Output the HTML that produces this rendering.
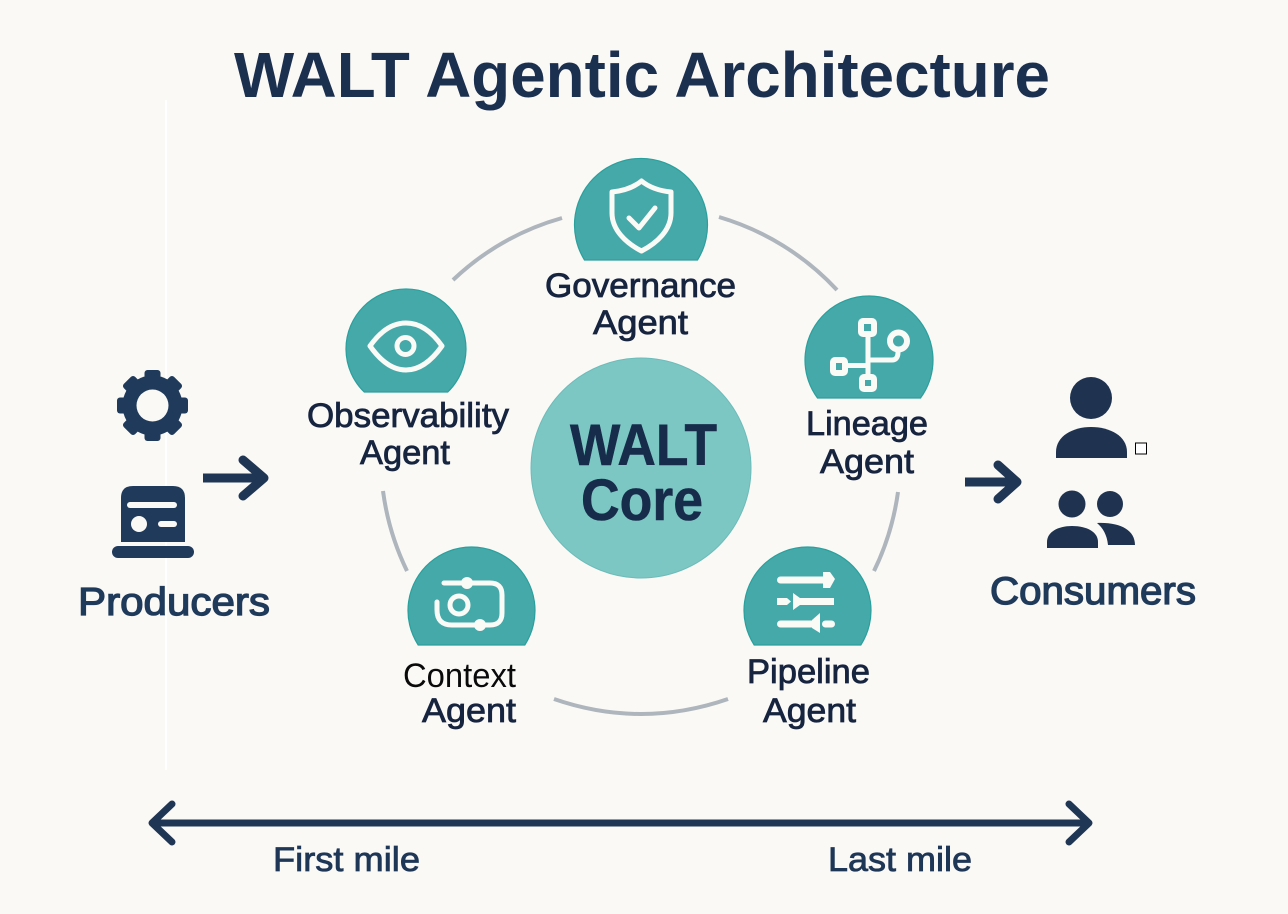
<!DOCTYPE html>
<html lang="en">
<head>
<meta charset="utf-8">
<title>WALT Agentic Architecture</title>
<style>
html,body{margin:0;padding:0;width:1288px;height:914px;overflow:hidden;background:#faf9f6}
svg{display:block}
text{font-family:"Liberation Sans",sans-serif;text-anchor:start}
.lab{font-size:34px;fill:#16243f;stroke:#16243f;stroke-width:.8px}
.blue{fill:#1f3756;stroke:#1f3756}
.side{font-size:39px;fill:#1f3a5a;stroke:#1f3a5a;stroke-width:1.300px}
.teal{fill:#45a9a9;stroke:#2aa09d;stroke-width:1.2}
.ic{fill:none;stroke:#fafaf7;stroke-width:5;stroke-linecap:round;stroke-linejoin:round}
.arc{fill:none;stroke:#aeb5bd;stroke-width:4}
.nav{fill:none;stroke:#1f3654;stroke-linejoin:round}
</style>
</head>
<body>
<svg width="1288" height="914" viewBox="0 0 1288 914" xmlns="http://www.w3.org/2000/svg">
<rect width="1288" height="914" fill="#faf9f6"/>
<rect x="165" y="100" width="2" height="670" fill="#ffffff"/>

<text x="234" y="97" font-size="64" font-weight="bold" fill="#1b2f4f" textLength="816" lengthAdjust="spacingAndGlyphs">WALT Agentic Architecture</text>

<!-- ring arcs -->
<path class="arc" d="M562 218 A262 262 0 0 0 453 280"/>
<path class="arc" d="M719 217 A262 262 0 0 1 837 290"/>
<path class="arc" d="M898 492 A262 262 0 0 1 874 571"/>
<path class="arc" d="M554 699 Q641 729 728 699"/>
<path class="arc" d="M383 491 A262 262 0 0 0 407 571"/>

<!-- core -->
<circle cx="641" cy="468" r="110" fill="#7cc7c4" stroke="#6cbcb9" stroke-width="1"/>
<text x="570" y="465" font-size="58" font-weight="bold" fill="#172c4a" stroke="#172c4a" stroke-width=".6" textLength="147" lengthAdjust="spacingAndGlyphs">WALT</text>
<text x="581" y="520" font-size="58" font-weight="bold" fill="#172c4a" stroke="#172c4a" stroke-width=".6" textLength="122" lengthAdjust="spacingAndGlyphs">Core</text>

<!-- Governance -->
<path class="teal" d="M584.500 260 A66.500 66.500 0 1 1 697.500 260 Z"/>
<path class="ic" d="M641.500 181 C633 188 622 191 612 192 V213 C612 230 626 243 641.500 251 C657 243 671 230 671 213 V192 C661 191 650 188 641.500 181 Z"/>
<path class="ic" d="M629 218 L639 228 L655 208" stroke-width="6"/>
<text class="lab" x="545" y="297" textLength="191" lengthAdjust="spacingAndGlyphs">Governance</text>
<text class="lab" x="593" y="334" textLength="95" lengthAdjust="spacingAndGlyphs">Agent</text>

<!-- Observability -->
<path class="teal" d="M364.200 392 A60 60 0 1 1 447.800 392 Z"/>
<path class="ic" d="M370 346 C382 329 394 323 406 323 C418 323 430 329 442 346 C430 363 418 370 406 370 C394 370 382 363 370 346 Z"/>
<circle class="ic" cx="405.500" cy="346" r="8.500"/>
<text class="lab" x="307" y="427" textLength="202" lengthAdjust="spacingAndGlyphs">Observability</text>
<text class="lab" x="360" y="464" textLength="90" lengthAdjust="spacingAndGlyphs">Agent</text>

<!-- Lineage -->
<path class="teal" d="M817.500 398 A64 64 0 1 1 920.500 398 Z"/>
<g class="ic">
<rect x="861" y="321" width="13" height="13" rx="2" stroke-width="6"/>
<rect x="833" y="360" width="12" height="13" rx="2" stroke-width="6"/>
<rect x="862" y="377" width="12" height="12" rx="2" stroke-width="6"/>
<circle cx="898.500" cy="341" r="8.500" stroke-width="6"/>
<path d="M868 335 V376 M846 365.500 H868 M868 360 H892 Q898 360 898 352"/>
</g>
<text class="lab" x="806" y="435" textLength="122" lengthAdjust="spacingAndGlyphs">Lineage</text>
<text class="lab" x="820" y="473" textLength="94" lengthAdjust="spacingAndGlyphs">Agent</text>

<!-- Context -->
<path class="teal" d="M418.200 645 A63.500 63.500 0 1 1 524.800 645 Z"/>
<path class="ic" d="M444 583 H490 Q502 583 502 595 V613 Q502 625 490 625 H452 Q437 625 437 610 V602"/>
<circle class="ic" cx="459" cy="605" r="9" stroke-width="7"/>
<circle cx="467" cy="583" r="6" fill="#fafaf7"/>
<circle cx="480" cy="625" r="6" fill="#fafaf7"/>
<text x="403" y="687" font-size="34" fill="#0a0a0a" textLength="113" lengthAdjust="spacingAndGlyphs">Context</text>
<text class="lab" x="422" y="722" textLength="94" lengthAdjust="spacingAndGlyphs">Agent</text>

<!-- Pipeline -->
<path class="teal" d="M754.200 645 A63.500 63.500 0 1 1 860.800 645 Z"/>
<g fill="#fafaf7" stroke="none">
<rect x="777" y="576.500" width="50" height="7" rx="3.500"/>
<path d="M823 572 L830 572 L835 579 L830 588 L823 588 Z"/>
<path d="M777 598 H787 L791 601.500 L787 605 H777 Z"/>
<path d="M793 593 L800 598 H834 V605 H800 L793 610 Z"/>
<rect x="777" y="620.500" width="42" height="7" rx="3.500"/>
<path d="M820 613 V633 L812 628 V620 Z"/>
<rect x="822" y="620.500" width="13" height="7" rx="3.500"/>
</g>
<text class="lab" x="747" y="683" textLength="123" lengthAdjust="spacingAndGlyphs">Pipeline</text>
<text class="lab" x="763" y="722" textLength="93" lengthAdjust="spacingAndGlyphs">Agent</text>

<!-- Producers -->
<g fill="#1f3a5a">
<circle cx="152.500" cy="405.500" r="30"/>
<rect x="144.500" y="370" width="16" height="16" rx="3"/>
<rect x="144.500" y="370" width="16" height="16" rx="3" transform="rotate(45 152.500 405.500)"/>
<rect x="144.500" y="370" width="16" height="16" rx="3" transform="rotate(90 152.500 405.500)"/>
<rect x="144.500" y="370" width="16" height="16" rx="3" transform="rotate(135 152.500 405.500)"/>
<rect x="144.500" y="370" width="16" height="16" rx="3" transform="rotate(180 152.500 405.500)"/>
<rect x="144.500" y="370" width="16" height="16" rx="3" transform="rotate(225 152.500 405.500)"/>
<rect x="144.500" y="370" width="16" height="16" rx="3" transform="rotate(270 152.500 405.500)"/>
<rect x="144.500" y="370" width="16" height="16" rx="3" transform="rotate(315 152.500 405.500)"/>
<path d="M121 542 V498 Q121 486 133 486 H173 Q185 486 185 498 V542 Z"/>
<rect x="112" y="546" width="82" height="12" rx="6"/>
</g>
<circle cx="152.500" cy="405.500" r="16" fill="#faf9f6"/>
<g fill="#faf9f6">
<rect x="127" y="502" width="50" height="6" rx="3"/>
<circle cx="139" cy="524" r="8"/>
<rect x="158" y="521" width="19" height="6" rx="3"/>
</g>
<path class="nav" style="stroke-linecap:butt" d="M203 478 H262" stroke-width="9"/>
<path class="nav" style="stroke-linecap:round" d="M243 460 L264 478 L243 496" stroke-width="9"/>
<text class="side" x="78" y="615" textLength="192" lengthAdjust="spacingAndGlyphs">Producers</text>

<!-- Consumers -->
<path class="nav" style="stroke-linecap:butt" d="M965 482 H1016" stroke-width="9"/>
<path class="nav" style="stroke-linecap:round" d="M998 465 L1017 482 L998 499" stroke-width="9"/>
<g fill="#1f3350">
<circle cx="1091" cy="398" r="21"/>
<path d="M1056 458 V452 C1056 436 1073 427 1091 427 C1110 427 1127 436 1127 452 V458 Z"/>
<circle cx="1072" cy="504" r="13.500"/>
<circle cx="1110" cy="504" r="13"/>
<path d="M1047 548 V542 C1047 532 1058 526 1072 526 C1087 526 1098 532 1098 542 V548 Z"/>
<path d="M1097 523 C1120 522 1135 530 1135 545 H1108 C1107 535 1103 528 1097 523 Z"/>
</g>
<rect x="1135.500" y="443" width="11" height="11" fill="#ffffff" stroke="#000000" stroke-width="1"/>
<text class="side" x="990" y="604" textLength="206" lengthAdjust="spacingAndGlyphs">Consumers</text>

<!-- bottom axis -->
<path class="nav" style="stroke-linecap:round" d="M155 823 H1086" stroke-width="7"/>
<path class="nav" style="stroke-linecap:round" d="M172 804 L152 823 L172 842" stroke-width="7"/>
<path class="nav" style="stroke-linecap:round" d="M1069 804 L1089 823 L1069 842" stroke-width="7"/>
<text class="lab blue" x="273" y="871" textLength="147" lengthAdjust="spacingAndGlyphs">First mile</text>
<text class="lab blue" x="828" y="871" textLength="144" lengthAdjust="spacingAndGlyphs">Last mile</text>
</svg>
</body>
</html>
